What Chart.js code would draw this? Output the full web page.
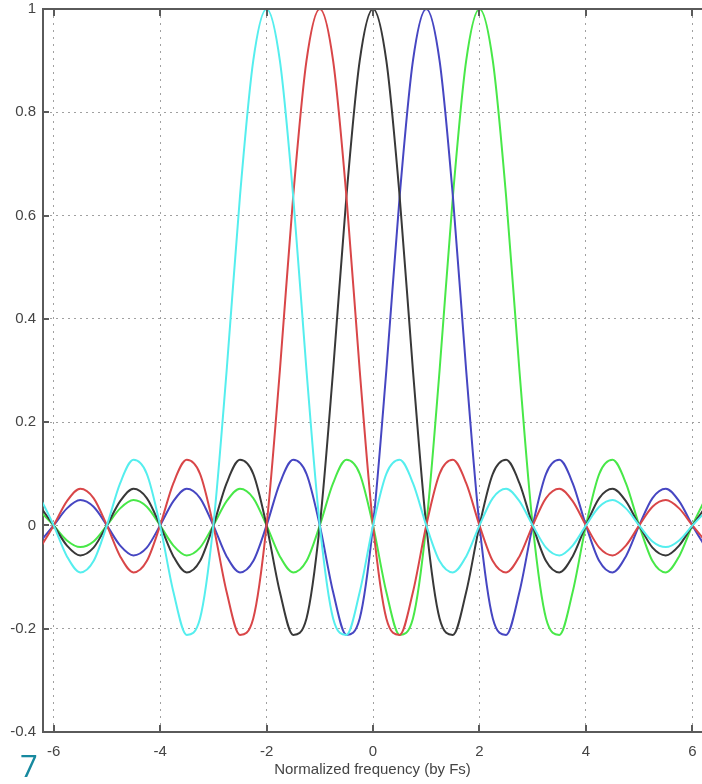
<!DOCTYPE html>
<html>
<head>
<meta charset="utf-8">
<script src="https://cdn.jsdelivr.net/npm/chart.js@4.4.1/dist/chart.umd.min.js"></script>
<style>
  html, body { margin: 0; padding: 0; background: #fff; }
  canvas { display: block; }
</style>
</head>
<body>
<canvas id="sincChart" width="702" height="784"></canvas>
<script>
// normalized frequency (by Fs), read every quarter step
const freqs = [-6.25, -6, -5.75, -5.5, -5.25, -5, -4.75, -4.5, -4.25, -4, -3.75, -3.5, -3.25,
  -3, -2.75, -2.5, -2.25, -2, -1.75, -1.5, -1.25, -1, -0.75, -0.5, -0.25, 0, 0.25, 0.5, 0.75,
  1, 1.25, 1.5, 1.75, 2, 2.25, 2.5, 2.75, 3, 3.25, 3.5, 3.75, 4, 4.25, 4.5, 4.75, 5, 5.25,
  5.5, 5.75, 6, 6.25];

// one lobe pattern per channel, peaks at -2, -1, 0, 1, 2
const cyanVals = [0.053, 0, -0.060, -0.091, -0.069, 0, 0.082, 0.127, 0.100, 0, -0.129, -0.212, -0.180,
  0, 0.300, 0.637, 0.900, 1, 0.900, 0.637, 0.300, 0, -0.180, -0.212, -0.129, 0, 0.100, 0.127, 0.082,
  0, -0.069, -0.091, -0.060, 0, 0.053, 0.071, 0.047, 0, -0.043, -0.058, -0.039, 0, 0.036, 0.049, 0.033,
  0, -0.031, -0.042, -0.029, 0, 0.027];
const redVals = [-0.043, 0, 0.047, 0.071, 0.053, 0, -0.060, -0.091, -0.069, 0, 0.082, 0.127, 0.100,
  0, -0.129, -0.212, -0.180, 0, 0.300, 0.637, 0.900, 1, 0.900, 0.637, 0.300, 0, -0.180, -0.212, -0.129,
  0, 0.100, 0.127, 0.082, 0, -0.069, -0.091, -0.060, 0, 0.053, 0.071, 0.047, 0, -0.043, -0.058, -0.039,
  0, 0.036, 0.049, 0.033, 0, -0.031];
const blackVals = [0.036, 0, -0.039, -0.058, -0.043, 0, 0.047, 0.071, 0.053, 0, -0.060, -0.091, -0.069,
  0, 0.082, 0.127, 0.100, 0, -0.129, -0.212, -0.180, 0, 0.300, 0.637, 0.900, 1, 0.900, 0.637, 0.300,
  0, -0.180, -0.212, -0.129, 0, 0.100, 0.127, 0.082, 0, -0.069, -0.091, -0.060, 0, 0.053, 0.071, 0.047,
  0, -0.043, -0.058, -0.039, 0, 0.036];
const blueVals = [-0.031, 0, 0.033, 0.049, 0.036, 0, -0.039, -0.058, -0.043, 0, 0.047, 0.071, 0.053,
  0, -0.060, -0.091, -0.069, 0, 0.082, 0.127, 0.100, 0, -0.129, -0.212, -0.180, 0, 0.300, 0.637, 0.900,
  1, 0.900, 0.637, 0.300, 0, -0.180, -0.212, -0.129, 0, 0.100, 0.127, 0.082, 0, -0.069, -0.091, -0.060,
  0, 0.053, 0.071, 0.047, 0, -0.043];
const greenVals = [0.027, 0, -0.029, -0.042, -0.031, 0, 0.033, 0.049, 0.036, 0, -0.039, -0.058, -0.043,
  0, 0.047, 0.071, 0.053, 0, -0.060, -0.091, -0.069, 0, 0.082, 0.127, 0.100, 0, -0.129, -0.212, -0.180,
  0, 0.300, 0.637, 0.900, 1, 0.900, 0.637, 0.300, 0, -0.180, -0.212, -0.129, 0, 0.100, 0.127, 0.082,
  0, -0.069, -0.091, -0.060, 0, 0.053];

const xTicks = [-6, -4, -2, 0, 2, 4, 6];
const xTickLabels = ['-6', '-4', '-2', '0', '2', '4', '6'];
const yTicks = [-0.4, -0.2, 0, 0.2, 0.4, 0.6, 0.8, 1];
const yTickLabels = ['-0.4', '-0.2', '0', '0.2', '0.4', '0.6', '0.8', '1'];

const axisColor = '#5a5a5a';
const labelFont = { family: '"Liberation Sans", Arial, sans-serif', size: 15 };

function series(vals, color) {
    return {
        data: freqs.map((f, i) => ({ x: f, y: vals[i] })),
        borderColor: color,
        borderWidth: 2,
        pointRadius: 0,
        fill: false,
        cubicInterpolationMode: 'monotone'
    };
}

// top box edge, inward tick marks and the figure number
const boxTicks = {
    id: 'boxTicks',
    afterDatasetsDraw(chart) {
        const { ctx, chartArea: a, scales: { x, y } } = chart;
        ctx.save();
        ctx.strokeStyle = axisColor;
        ctx.lineWidth = 2;
        ctx.beginPath();
        ctx.moveTo(a.left, a.top);
        ctx.lineTo(a.right, a.top);
        xTicks.forEach(v => {
            const px = Math.round(x.getPixelForValue(v));
            ctx.moveTo(px, a.bottom);
            ctx.lineTo(px, a.bottom - 7);
            ctx.moveTo(px, a.top);
            ctx.lineTo(px, a.top + 7);
        });
        yTicks.forEach(v => {
            const py = Math.round(y.getPixelForValue(v));
            ctx.moveTo(a.left, py);
            ctx.lineTo(a.left + 6, py);
        });
        ctx.stroke();
        ctx.fillStyle = '#17899f';
        ctx.font = '31px "Open Sans", sans-serif';
        ctx.textBaseline = 'alphabetic';
        ctx.fillText('7', 20, 777);
        ctx.restore();
    }
};

new Chart(document.getElementById('sincChart'), {
    type: 'line',
    data: {
        datasets: [
            series(cyanVals, '#55eeee'),
            series(redVals, '#d94648'),
            series(blackVals, '#383838'),
            series(blueVals, '#4646c2'),
            series(greenVals, '#48e848')
        ]
    },
    options: {
        responsive: false,
        animation: false,
        layout: { padding: { top: 9, right: 0, left: 0, bottom: 0 } },
        plugins: { legend: { display: false }, tooltip: { enabled: false } },
        scales: {
            x: {
                type: 'linear',
                min: -6.2,
                max: 6.18,
                afterBuildTicks: s => { s.ticks = xTicks.map(v => ({ value: v })); },
                afterFit: s => { s.height = 52; s.paddingLeft = 0; s.paddingRight = 0; },
                ticks: {
                    autoSkip: false,
                    maxRotation: 0,
                    padding: 11,
                    color: '#444',
                    font: labelFont,
                    callback: (v, i) => xTickLabels[i]
                },
                grid: { color: '#a0a0a0', lineWidth: 1, drawTicks: false },
                border: { display: true, color: axisColor, width: 2, dash: [2, 5] },
                title: {
                    display: true,
                    text: 'Normalized frequency (by Fs)',
                    color: '#444',
                    font: { family: '"Liberation Sans", Arial, sans-serif', size: 15 },
                    padding: { top: 0, bottom: 5 }
                }
            },
            y: {
                min: -0.4,
                max: 1,
                afterBuildTicks: s => { s.ticks = yTicks.map(v => ({ value: v })); },
                afterFit: s => { s.width = 43; s.paddingTop = 0; s.paddingBottom = 0; },
                ticks: {
                    autoSkip: false,
                    padding: 7,
                    color: '#444',
                    font: labelFont,
                    callback: (v, i) => yTickLabels[i]
                },
                grid: { color: '#a0a0a0', lineWidth: 1, drawTicks: false },
                border: { display: true, color: axisColor, width: 2, dash: [2, 4] }
            }
        }
    },
    plugins: [boxTicks]
});
</script>
</body>
</html>
